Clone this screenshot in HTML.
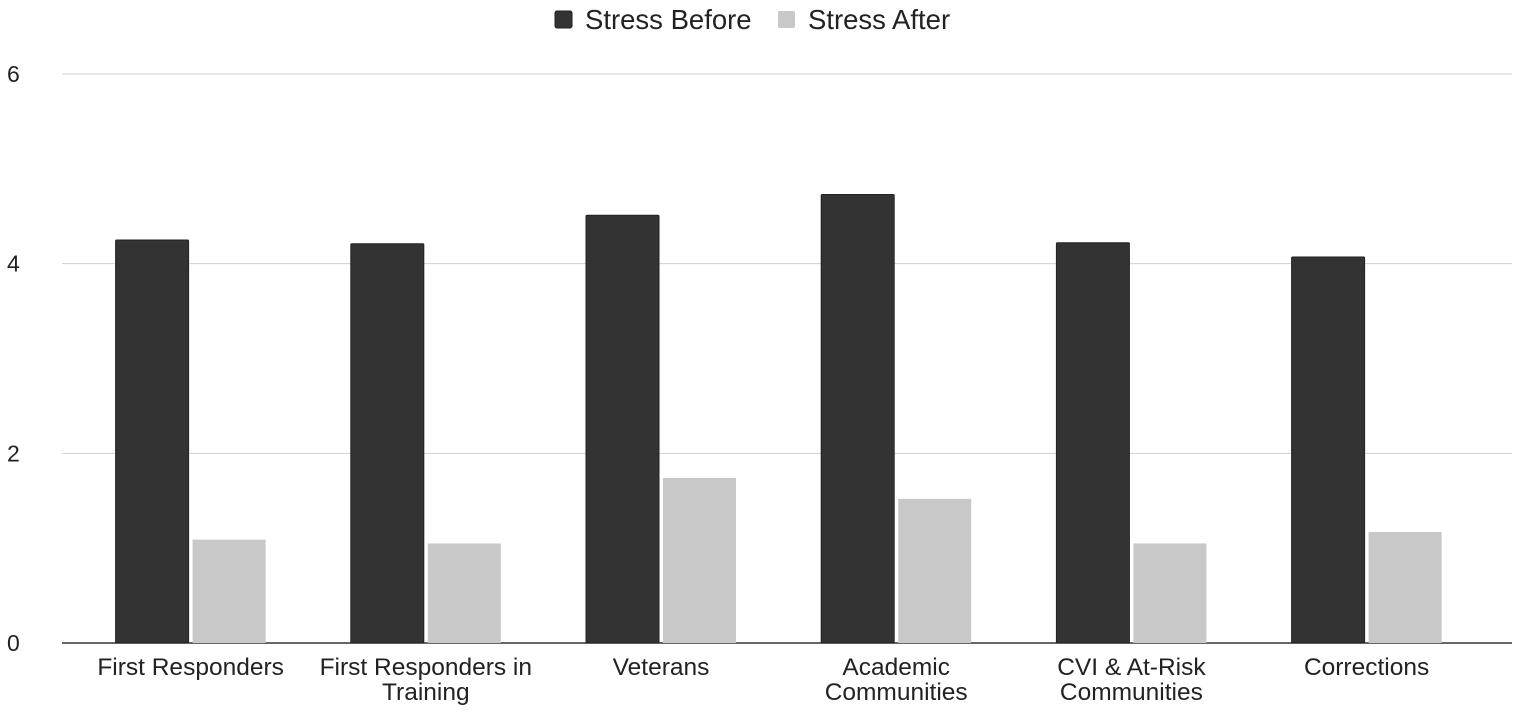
<!DOCTYPE html>
<html><head><meta charset="utf-8"><style>
html,body{margin:0;padding:0;background:#fff;}
svg{display:block;font-family:"Liberation Sans",Arial,sans-serif;}
</style></head><body>
<svg id="chart" width="1535" height="713">
<g id="legend">
<g>
<rect x="555" y="11" width="17" height="17" rx="2" fill="#333" stroke="#222"/>
<text x="585" y="29" font-size="27.5" fill="#222">Stress Before</text></g>
<g>
<rect x="778" y="11" width="17" height="17" rx="2" fill="#c8c8c8"/>
<text x="808" y="29" font-size="27.5" fill="#222">Stress After</text></g>
</g>
<g id="grid"></g><g id="bars"></g><g id="labels"></g>
</svg>
<script>
const categories=[["First Responders"],["First Responders in","Training"],["Veterans"],["Academic","Communities"],["CVI & At-Risk","Communities"],["Corrections"]];
const stressBefore=[4.25,4.21,4.51,4.73,4.22,4.07];
const stressAfter=[1.09,1.05,1.74,1.52,1.05,1.17];
const yTicks=[0,2,4,6];
const NS="http://www.w3.org/2000/svg";
const y0=643,pxPer=(643-74)/6;
const y=v=>y0-v*pxPer;
const bandStart=73,band=235.2;
const cx=i=>bandStart+band*(i+0.5);
function mk(tag,attrs,parent){const e=document.createElementNS(NS,tag);for(const k in attrs)e.setAttribute(k,attrs[k]);parent.appendChild(e);return e;}
const grid=document.getElementById('grid'),bars=document.getElementById('bars'),labels=document.getElementById('labels');
yTicks.forEach(t=>{
 const l=mk('line',{x1:62,x2:1512,y1:y(t),y2:y(t),stroke:t===0?'#333':'#d0d0d0','stroke-width':t===0?1.5:1},grid);
 
 
 const tx=mk('text',{x:7,y:y(t)+8,'font-size':23,fill:'#222'},grid);tx.textContent=t;
 
 
});
const bw=73,gap=4;
categories.forEach((c,i)=>{
 const b=mk('rect',{x:cx(i)-gap/2-bw,y:y(stressBefore[i]),width:bw,height:y0-y(stressBefore[i]),fill:'#333',stroke:'#222',rx:1},bars);
 
 
 const a=mk('rect',{x:cx(i)+gap/2,y:y(stressAfter[i]),width:bw,height:y0-y(stressAfter[i]),fill:'#c8c8c8'},bars);
 
 
 const t=mk('text',{x:cx(i),y:675,'font-size':24.5,fill:'#222','text-anchor':'middle'},labels);
 
 
 c.forEach((line,j)=>{const s=mk('tspan',{x:cx(i),dy:j?25:0},t);s.textContent=line;});
});
</script>
</body></html>
